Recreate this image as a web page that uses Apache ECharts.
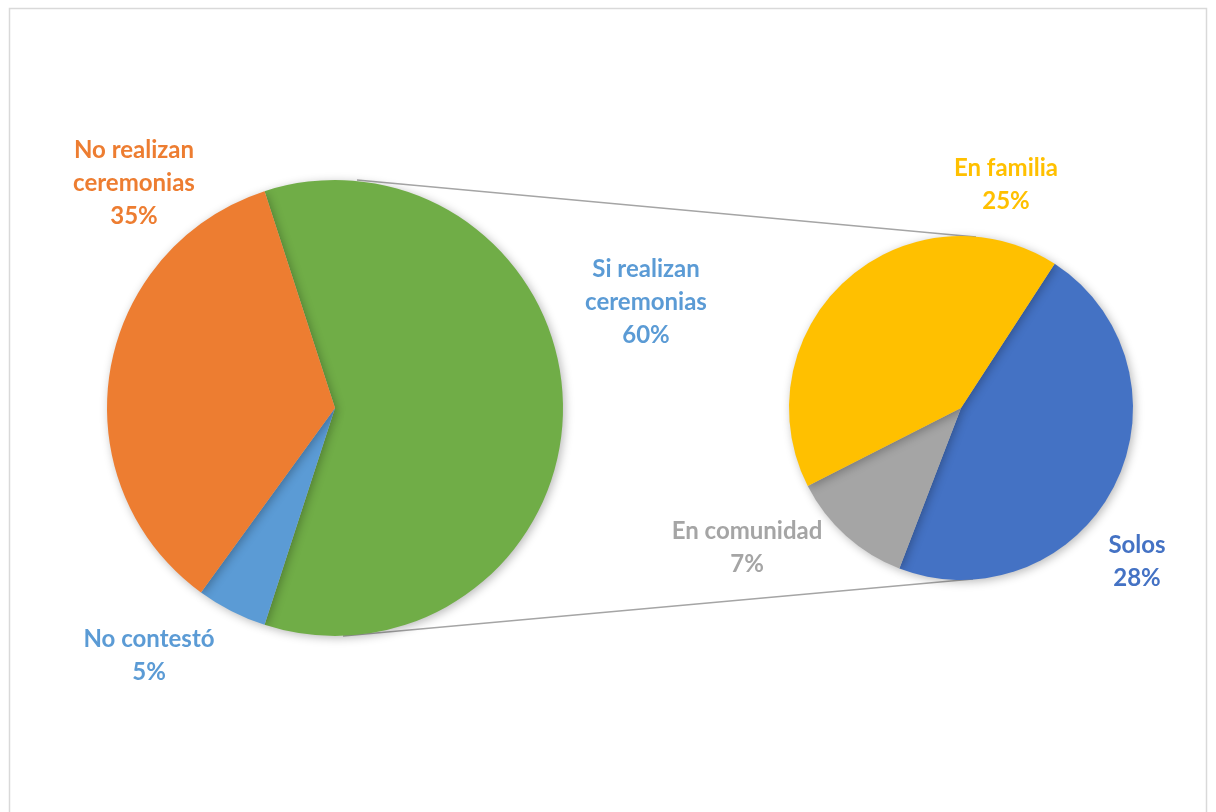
<!DOCTYPE html>
<html>
<head>
<meta charset="utf-8">
<script src="https://cdn.jsdelivr.net/npm/echarts@6/dist/echarts.min.js"></script>
<style>
  html, body { margin: 0; padding: 0; background: #fff; }
  #main { width: 1216px; height: 812px; }
</style>
</head>
<body>
<div id="main"></div>
<script>
// main pie: Si realizan is the "other" slice broken out on the right
var mainNames = ['Si realizan\nceremonias', 'No contestó', 'No realizan\nceremonias'];
var mainValues = [60, 5, 35];
var mainColors = ['#70AD47', '#5B9BD5', '#ED7D31'];
var mainLabelColors = ['#5B9BD5', '#5B9BD5', '#ED7D31'];

var subNames = ['Solos', 'En comunidad', 'En familia'];
var subValues = [28, 7, 25];
var subColors = ['#4472C4', '#A5A5A5', '#FFC000'];

var mainCenter = [335, 408], mainR = 228;
var subCenter = [961, 408], subR = 172;

var mainLabelPos = [[646, 302], [149, 656], [134, 183]];
var subLabelPos = [[1137, 562], [747, 548], [1006, 185]];

var font = 'Lato, "Open Sans", sans-serif';

function build(names, values, colors, labelColors) {
    return names.map(function(n, i) {
        return {
            name: n,
            value: values[i],
            itemStyle: { color: colors[i] },
            label: { color: labelColors[i] }
        };
    });
}

var chart = echarts.init(document.getElementById('main'));

var shadow = { shadowBlur: 10, shadowColor: 'rgba(0,0,0,0.28)', shadowOffsetX: 2, shadowOffsetY: 2 };

function labelOpt() {
    return {
        show: true,
        position: 'outside',
        fontFamily: font,
        fontWeight: 'bold',
        fontSize: 24,
        lineHeight: 33,
        align: 'center',
        overflow: 'none',
        formatter: function(p) { return p.name + '\n' + p.value + '%'; }
    };
}

var option = {
    backgroundColor: '#fff',
    animation: false,
    graphic: [
        {
            type: 'rect',
            shape: { x: 9.5, y: 8.5, width: 1197, height: 830 },
            style: { fill: 'none', stroke: '#D9D9D9', lineWidth: 1.5 },
            z: -1
        },
        {
            type: 'line',
            shape: { x1: mainCenter[0] + 22, y1: mainCenter[1] - mainR, x2: subCenter[0] + 15, y2: subCenter[1] - subR + 1 },
            style: { stroke: '#A5A5A5', lineWidth: 1.5 },
            z: 0
        },
        {
            type: 'line',
            shape: { x1: mainCenter[0] + 8, y1: mainCenter[1] + mainR, x2: subCenter[0] + 12, y2: subCenter[1] + subR - 1 },
            style: { stroke: '#A5A5A5', lineWidth: 1.5 },
            z: 0
        }
    ],
    series: [
        {
            type: 'pie',
            center: mainCenter,
            radius: mainR,
            startAngle: 108,
            clockwise: true,
            silent: true,
            itemStyle: shadow,
            label: labelOpt(),
            labelLine: { show: false },
            labelLayout: function(p) {
                var pos = mainLabelPos[p.dataIndex];
                return { x: pos[0], y: pos[1], align: 'center', verticalAlign: 'middle' };
            },
            data: build(mainNames, mainValues, mainColors, mainLabelColors)
        },
        {
            type: 'pie',
            center: subCenter,
            radius: subR,
            startAngle: 57,
            clockwise: true,
            silent: true,
            itemStyle: shadow,
            label: labelOpt(),
            labelLine: { show: false },
            labelLayout: function(p) {
                var pos = subLabelPos[p.dataIndex];
                return { x: pos[0], y: pos[1], align: 'center', verticalAlign: 'middle' };
            },
            data: build(subNames, subValues, subColors, subColors)
        }
    ]
};

chart.setOption(option);
</script>
</body>
</html>
